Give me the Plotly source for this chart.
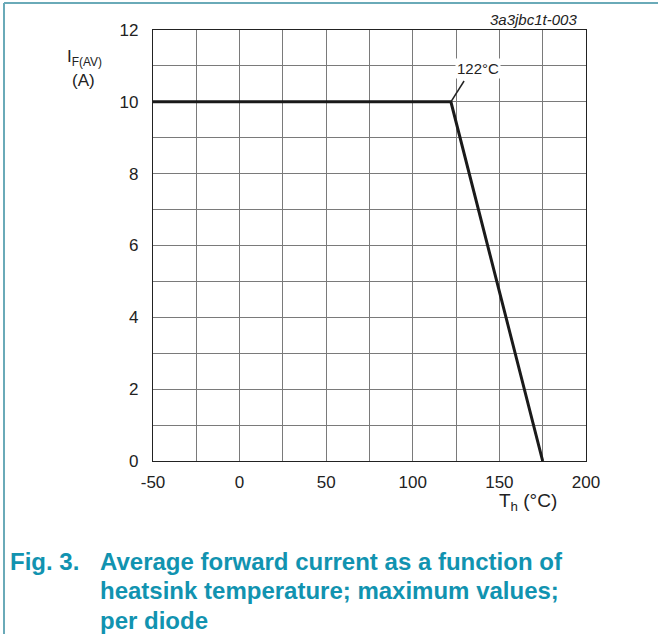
import plotly.graph_objects as go

temp_c = [-50, 122, 175]
current_a = [10, 10, 0]
x_ticks = [-50, 0, 50, 100, 150, 200]
y_ticks = [0, 2, 4, 6, 8, 10, 12]
knee_label = "122°C"
caption_lines = ["Average forward current as a function of",
                 "heatsink temperature; maximum values;",
                 "per diode"]

W, H = 658, 634
L, R, T, B = 153, 586, 30, 461
pw, ph = R - L, B - T

def px(x):
    return (x - L) / pw

def py(y):
    return (B - y) / ph

fig = go.Figure()
fig.add_trace(go.Scatter(x=temp_c, y=current_a, mode="lines",
                         line=dict(color="#1a1a1a", width=3), showlegend=False,
                         hoverinfo="skip"))

tickfont = dict(family="Liberation Sans, Arial", size=17, color="#222")
axis_common = dict(showgrid=True, gridcolor="#7a7a7a", gridwidth=1,
                   showline=True, linecolor="#222", linewidth=1.3, mirror=True,
                   zeroline=False, ticks="", tickfont=tickfont)

xv = [-50 + 25 * i for i in range(11)]
fig.update_xaxes(range=[-50, 200], tickvals=xv,
                 ticktext=[str(v) if v in x_ticks else "" for v in xv],
                 ticklabelstandoff=5, **axis_common)
yv = list(range(13))
fig.update_yaxes(range=[0, 12], tickvals=yv,
                 ticktext=[str(v) if v in y_ticks else "" for v in yv],
                 ticklabelstandoff=10, **axis_common)

# knee label with leader line
fig.add_annotation(x=137.6, y=10.94, text=knee_label, showarrow=False,
                   xanchor="center", yanchor="middle",
                   font=dict(family="Liberation Sans, Arial", size=15, color="#222"),
                   bgcolor="white", borderpad=1)
fig.add_shape(type="line", x0=122, y0=10, x1=129.6, y1=10.58,
              line=dict(color="#222", width=1.5))

def label(xp, yp, text, size=17, xanchor="center"):
    fig.add_annotation(xref="paper", yref="paper", x=px(xp), y=py(yp), text=text,
                       xanchor=xanchor, yanchor="middle", showarrow=False,
                       font=dict(family="Liberation Sans, Arial", size=size, color="#222"))

label(84, 58, "I<sub>F(AV)</sub>")
label(83, 80, "(A)")
label(528, 502, "T<sub>h</sub> (°C)", size=19)
label(579, 19, "<i>3a3jbc1t-003</i>", size=15, xanchor="right")

cap_font = dict(family="Liberation Sans, Arial", size=24, color="#1193b0")
fig.add_annotation(xref="paper", yref="paper", x=px(8), y=py(561), yanchor="middle", xanchor="left",
                   text="<b>Fig. 3.</b>", showarrow=False, font=cap_font, align="left")
for i, line in enumerate(caption_lines):
    fig.add_annotation(xref="paper", yref="paper", x=px(98), y=py(561 + 29.5 * i),
                       yanchor="middle", xanchor="left",
                       text="<b>" + line + "</b>", showarrow=False, font=cap_font, align="left")

# frame
fig.add_shape(type="line", xref="paper", yref="paper", x0=px(4), y0=py(3), x1=px(700), y1=py(3),
              line=dict(color="#6aaab8", width=2))
fig.add_shape(type="line", xref="paper", yref="paper", x0=px(4), y0=py(3), x1=px(4), y1=py(700),
              line=dict(color="#6aaab8", width=2))

fig.update_layout(width=W, height=H, margin=dict(l=L, r=W - R, t=T, b=H - B),
                  plot_bgcolor="white", paper_bgcolor="white", showlegend=False)
fig.write_html("out.html", config={"displayModeBar": False},
               post_script="document.body.style.margin='0';")
